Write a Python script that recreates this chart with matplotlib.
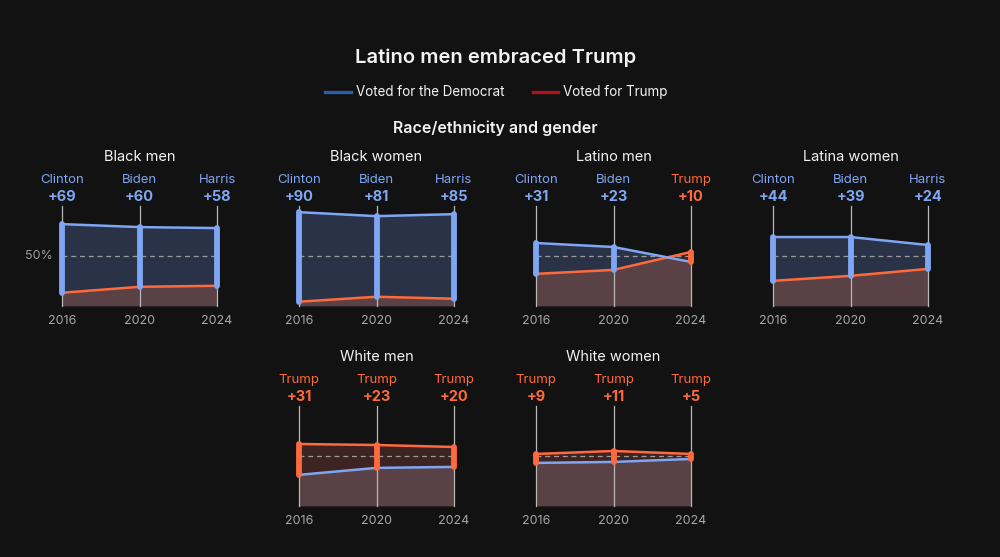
import matplotlib.pyplot as plt
from matplotlib.lines import Line2D
import numpy as np

plt.rcParams['font.family'] = ['Inter', 'DejaVu Sans']

BG = "#121212"
BLUE = "#7fa6f2"
ORANGE = "#ff6a3d"
BASE_FILL = "#5a4145"
BLUE_FILL = "#293246"
RED_FILL = "#3d2321"
GRID = "#b8b8b8"
TEXT = "#f2f2f2"
MUTED = "#a8a8a8"

years = [2016, 2020, 2024]
dem_names = ["Clinton", "Biden", "Harris"]
groups = ["Black men", "Black women", "Latino men", "Latina women", "White men", "White women"]
dem = [
    [82, 79, 78],
    [94, 90, 92],
    [63, 59, 44],
    [69, 69, 61],
    [31, 38, 39],
    [43, 44, 47],
]
trump = [
    [13, 19, 20],
    [4, 9, 7],
    [32, 36, 54],
    [25, 30, 37],
    [62, 61, 59],
    [52, 55, 52],
]

# panel placement in pixels: (left x of 2016, y of 0% from top)
positions = [(62, 305.7), (299, 305.7), (536, 305.7), (773, 305.7),
             (299, 505.7), (536, 505.7)]
W, H = 1000, 557
PW, PH = 155, 99.5


def draw_panel(fig, idx):
    left, base = positions[idx]
    ax = fig.add_axes([left / W, (H - base) / H, PW / W, PH / H])
    ax.set_facecolor("none")
    ax.set_xlim(years[0], years[-1])
    ax.set_ylim(0, 100)
    ax.axis("off")

    x = np.array(years, dtype=float)
    d = np.array(dem[idx], dtype=float)
    t = np.array(trump[idx], dtype=float)

    ax.fill_between(x, 0, d, color=BASE_FILL, lw=0)
    ax.fill_between(x, 0, t, color=BASE_FILL, lw=0)
    ax.fill_between(x, t, d, where=d >= t, interpolate=True, color=BLUE_FILL, lw=0)
    ax.fill_between(x, d, t, where=t >= d, interpolate=True, color=RED_FILL, lw=0)

    for yr in years:
        ax.plot([yr, yr], [0, 100], color=GRID, lw=0.9, zorder=2, clip_on=False)

    ax.plot([years[0], years[-1]], [50, 50], color="#9a9a9a", lw=0.9,
            dashes=(4, 3), zorder=3)

    ax.plot(x, t, color=ORANGE, lw=1.8, zorder=4, clip_on=False)
    ax.plot(x, d, color=BLUE, lw=1.8, zorder=4, clip_on=False)

    for i, yr in enumerate(years):
        win_dem = d[i] > t[i]
        col = BLUE if win_dem else ORANGE
        ax.plot([yr, yr], [t[i], d[i]], color=col, lw=4.2,
                solid_capstyle="round", zorder=5, clip_on=False)
        name = dem_names[i] if win_dem else "Trump"
        margin = int(abs(d[i] - t[i]))
        ax.annotate(name, (yr, 100), xytext=(0, 17), textcoords="offset points",
                    ha="center", va="baseline", color=col, fontsize=9.5)
        ax.annotate(f"+{margin}", (yr, 100), xytext=(0, 4), textcoords="offset points",
                    ha="center", va="baseline", color=col, fontsize=10.5,
                    fontweight="bold")
        ax.annotate(str(yr), (yr, 0), xytext=(0, -13.5), textcoords="offset points",
                    ha="center", va="baseline", color=MUTED, fontsize=9)

    ax.annotate(groups[idx], ((years[0] + years[-1]) / 2, 100), xytext=(0, 32.5),
                textcoords="offset points", ha="center", va="baseline",
                color=TEXT, fontsize=10.5)

    if idx == 0:
        ax.annotate("50%", (years[0], 50), xytext=(-7, 0), textcoords="offset points",
                    ha="right", va="center", color="#9a9a9a", fontsize=9)


def main():
    fig = plt.figure(figsize=(10, 5.57), dpi=100, facecolor=BG)

    fig.text(0.496, 1 - 58 / H, "Latino men embraced Trump", ha="center", va="center",
             color=TEXT, fontsize=14.5, fontweight="semibold")

    # legend
    ly = 1 - 92 / H
    fig.add_artist(Line2D([325 / W, 351 / W], [ly, ly], color="#2a5cae", lw=2.4))
    fig.text(356 / W, ly, "Voted for the Democrat", ha="left", va="center",
             color=TEXT, fontsize=9.7)
    fig.add_artist(Line2D([533 / W, 558 / W], [ly, ly], color="#b0121a", lw=2.4))
    fig.text(563 / W, ly, "Voted for Trump", ha="left", va="center",
             color=TEXT, fontsize=9.7)

    fig.text(0.495, 1 - 128 / H, "Race/ethnicity and gender", ha="center", va="center",
             color=TEXT, fontsize=11.5, fontweight="semibold")

    for idx in range(len(groups)):
        draw_panel(fig, idx)

    fig.savefig("out.png", dpi=100, facecolor=BG)


if __name__ == "__main__":
    main()
